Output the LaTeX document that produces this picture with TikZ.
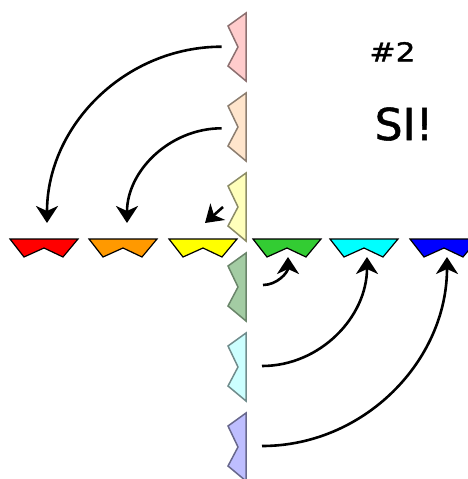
\documentclass[tikz,border=0pt]{standalone}
\usepackage{fontspec}
\newfontfamily\labelfont[FakeBold=1.2]{DejaVu Sans}
\usepackage{tikz}
\usetikzlibrary{arrows.meta}

\definecolor{piecered}{RGB}{255,0,0}
\definecolor{pieceorange}{RGB}{255,153,0}
\definecolor{pieceyellow}{RGB}{255,255,0}
\definecolor{piecegreen}{RGB}{51,204,51}
\definecolor{piececyan}{RGB}{0,255,255}
\definecolor{pieceblue}{RGB}{0,0,255}
\definecolor{palered}{RGB}{255,204,204}
\definecolor{paleorange}{RGB}{255,229,204}
\definecolor{paleyellow}{RGB}{255,255,187}
\definecolor{palegreen}{RGB}{163,204,163}
\definecolor{palecyan}{RGB}{204,255,255}
\definecolor{paleblue}{RGB}{190,190,255}

\begin{document}
\begin{tikzpicture}[
    x=1pt, y=-1pt,
    hpiece/.style={draw=black, line width=1.2pt, line join=miter},
    vpiece/.style={line width=1.5pt, line join=miter},
    arrow/.style={-{Stealth[length=17pt, width=22pt, inset=5pt]}, line width=2.6pt}
]
\useasboundingbox (0,0) rectangle (468,479);

% Pieces lying along the row
\draw[hpiece, fill=piecered]    (10,239)  -- ++(68,0) -- ++(-15,18) -- ++(-19,-9) -- ++(-20,9) -- cycle;
\draw[hpiece, fill=pieceorange] (89,239)  -- ++(68,0) -- ++(-15,18) -- ++(-19,-9) -- ++(-20,9) -- cycle;
\draw[hpiece, fill=pieceyellow] (169,239) -- ++(68,0) -- ++(-15,18) -- ++(-19,-9) -- ++(-20,9) -- cycle;
\draw[hpiece, fill=piecegreen]  (253,239) -- ++(68,0) -- ++(-15,18) -- ++(-19,-9) -- ++(-20,9) -- cycle;
\draw[hpiece, fill=piececyan]   (330,239) -- ++(68,0) -- ++(-15,18) -- ++(-19,-9) -- ++(-20,9) -- cycle;
\draw[hpiece, fill=pieceblue]   (410,239) -- ++(68,0) -- ++(-15,18) -- ++(-19,-9) -- ++(-20,9) -- cycle;

% Pieces standing in the column
\draw[vpiece, fill=palered,    draw=palered!55!black]    (246,13)  -- ++(-18,13) -- ++(10,21) -- ++(-10,19) -- ++(18,15) -- cycle;
\draw[vpiece, fill=paleorange, draw=paleorange!55!black] (246,93)  -- ++(-18,13) -- ++(10,21) -- ++(-10,19) -- ++(18,15) -- cycle;
\draw[vpiece, fill=paleyellow, draw=paleyellow!55!black] (246,173) -- ++(-18,13) -- ++(10,21) -- ++(-10,19) -- ++(18,15) -- cycle;
\draw[vpiece, fill=palegreen,  draw=palegreen!65!black]  (246,253) -- ++(-18,13) -- ++(10,21) -- ++(-10,19) -- ++(18,15) -- cycle;
\draw[vpiece, fill=palecyan,   draw=palecyan!55!black]   (246,333) -- ++(-18,13) -- ++(10,21) -- ++(-10,19) -- ++(18,15) -- cycle;
\draw[vpiece, fill=paleblue,   draw=paleblue!55!black]   (246,413) -- ++(-18,13) -- ++(10,21) -- ++(-10,19) -- ++(18,15) -- cycle;

% Arrow ends
\coordinate (pink)   at (221.7,46.7);
\coordinate (peach)  at (221.7,128.3);
\coordinate (cream)  at (223,207);
\coordinate (sage)   at (263,285);
\coordinate (ice)    at (262,366);
\coordinate (lilac)  at (262,446);
\coordinate (red)    at (47,223);
\coordinate (orange) at (127,223);
\coordinate (yellow) at (205,223);
\coordinate (green)  at (288,257);
\coordinate (cyan)   at (367,257);
\coordinate (blue)   at (447,257);

% Moves
\draw[arrow] (pink)  .. controls +(-96.5,0) and +(0,-97.3) .. (red);
\draw[arrow] (peach) .. controls +(-52,0) and +(0,-52) .. (orange);
\draw[arrow] (cream) -- (yellow);
\draw[arrow] (sage)  .. controls +(14,0) and +(0,15.5) .. (green);
\draw[arrow] (ice)   .. controls +(58,0) and +(0,60) .. (cyan);
\draw[arrow] (lilac) .. controls +(102,0) and +(0,104) .. (blue);

% Labels
\node[inner sep=0pt, xscale=1.2, font=\labelfont\fontsize{26}{26}\selectfont] (count) at (392.5,51.7) {\#2};
\node[inner sep=0pt, font=\labelfont\fontsize{44}{44}\selectfont] (answer) at (404,124) {SI!};

\end{tikzpicture}
\end{document}
